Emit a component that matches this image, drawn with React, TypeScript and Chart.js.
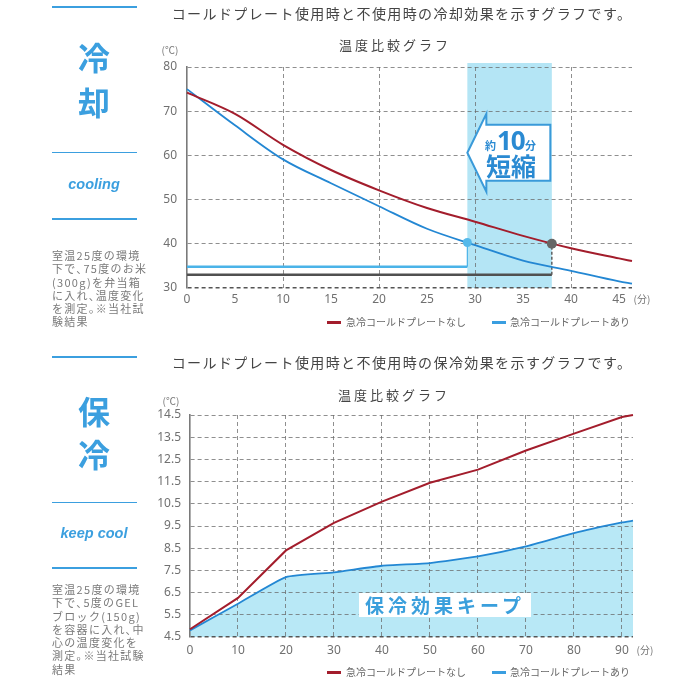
import React, { useEffect, useRef } from "react";
import { Chart, registerables } from "chart.js";
Chart.register(...registerables);

// ---------- data: cooling chart ----------
const coolMinutes = [0, 5, 10, 15, 20, 25, 30, 35, 40, 45, 46.35];
const coolWithout = [74.2, 69.4, 62.4, 56.7, 52.1, 48.1, 45.0, 41.8, 39.0, 36.7, 36.1];
const coolWith = [75.0, 66.8, 59.1, 53.7, 48.5, 43.4, 39.7, 36.2, 33.9, 31.5, 31.0];
const coolXTicks = [0, 5, 10, 15, 20, 25, 30, 35, 40, 45];
const coolYTicks = [30, 40, 50, 60, 70, 80];
const coolBand = [29.2, 38.0];
const coolMarkWith = { x: 29.2, y: 40.3 };
const coolMarkWithout = { x: 38.0, y: 40.0 };
const coolBaseWith = 34.8;
const coolBaseWithout = 33.0;

// ---------- data: keep-cool chart ----------
const keepMinutes = [0, 10, 20, 30, 40, 50, 60, 70, 80, 90, 92.3];
const keepWithout = [4.85, 6.26, 8.4, 9.64, 10.6, 11.45, 12.04, 12.9, 13.66, 14.41, 14.5];
const keepWith = [4.8, 6.0, 7.2, 7.41, 7.71, 7.83, 8.13, 8.58, 9.18, 9.66, 9.74];
const keepXTicks = [0, 10, 20, 30, 40, 50, 60, 70, 80, 90];
const keepYTicks = [4.5, 5.5, 6.5, 7.5, 8.5, 9.5, 10.5, 11.5, 12.5, 13.5, 14.5];

const seriesNames = ["急冷コールドプレートなし", "急冷コールドプレートあり"];

const JP = '"Noto Sans CJK JP", "Noto Sans", sans-serif';
const NUM = '"Noto Sans", "DejaVu Sans", sans-serif';
const RED = "#a31d2c";
const BLUE = "#2387d3";
const SKY = "#3b9fdf";
const GRID = "rgba(105,105,105,0.75)";

const fixedTicks = (values: number[]) => (scale: any) => {
  scale.ticks = values.map((v) => ({ value: v }));
};

const pts = (xs: number[], ys: number[]) => xs.map((x, i) => ({ x, y: ys[i] }));

function baseScales(opts: any) {
  const { xMin, xMax, xTicks, yMin, yMax, yTicks, yWidth, xHeight, xPad, yPad, yFmt } = opts;
  return {
    x: {
      type: "linear",
      min: xMin,
      max: xMax,
      afterBuildTicks: fixedTicks(xTicks),
      afterFit: (s: any) => {
        s.height = xHeight;
      },
      grid: {
        color: (c: any) =>
          c.tick && c.tick.value % 10 === 0 && c.tick.value !== 0 ? GRID : "rgba(0,0,0,0)",
        lineWidth: 1,
        drawTicks: false,
      },
      border: { display: false, dash: [4, 3] },
      ticks: {
        padding: xPad,
        color: "#707070",
        font: { family: NUM, size: 12 },
        maxRotation: 0,
        autoSkip: false,
      },
    },
    y: {
      type: "linear",
      min: yMin,
      max: yMax,
      afterBuildTicks: fixedTicks(yTicks),
      afterFit: (s: any) => {
        s.width = yWidth;
      },
      grid: {
        color: (c: any) => (c.tick && c.tick.value === yMin ? "#555" : GRID),
        lineWidth: (c: any) => (c.tick && c.tick.value === yMin ? 1.6 : 1),
        drawTicks: false,
      },
      border: { display: true, color: "#7a7a7a", width: 1.6, dash: [4, 3] },
      ticks: {
        padding: yPad,
        color: "#707070",
        font: { family: NUM, size: 12 },
        autoSkip: false,
        callback: yFmt,
      },
    },
  };
}

function CoolChart() {
  const ref = useRef<HTMLCanvasElement>(null);
  useEffect(() => {
    const bandPlugin = {
      id: "coolBand",
      beforeDraw(chart: any) {
        const { ctx, chartArea, scales } = chart;
        const x1 = scales.x.getPixelForValue(coolBand[0]);
        const x2 = scales.x.getPixelForValue(coolBand[1]);
        ctx.save();
        ctx.fillStyle = "#b4e5f5";
        ctx.fillRect(x1, chartArea.top - 4, x2 - x1, chartArea.bottom - chartArea.top + 4);
        ctx.restore();
      },
      afterDraw(chart: any) {
        const { ctx, scales } = chart;
        const x1 = scales.x.getPixelForValue(coolBand[0]);
        const x2 = scales.x.getPixelForValue(coolBand[1]);
        const yc = scales.y.getPixelForValue(60.6);
        const hb = x1 + 19;
        const right = x2 - 1.5;
        ctx.save();
        ctx.beginPath();
        ctx.moveTo(x1, yc);
        ctx.lineTo(hb, yc - 39);
        ctx.lineTo(hb, yc - 28);
        ctx.lineTo(right, yc - 28);
        ctx.lineTo(right, yc + 28);
        ctx.lineTo(hb, yc + 28);
        ctx.lineTo(hb, yc + 39);
        ctx.closePath();
        ctx.fillStyle = "#ffffff";
        ctx.fill();
        ctx.lineWidth = 2;
        ctx.strokeStyle = "#3a9ad9";
        ctx.stroke();
        ctx.restore();
      },
    };
    const chart = new Chart(ref.current!, {
      type: "line",
      data: {
        datasets: [
          {
            data: [coolMarkWith],
            showLine: false,
            pointRadius: 4.5,
            pointBackgroundColor: "#55b9ea",
            pointBorderWidth: 0,
            clip: 8,
          },
          {
            data: [coolMarkWithout],
            showLine: false,
            pointRadius: 5,
            pointBackgroundColor: "#666",
            pointBorderWidth: 0,
            clip: 8,
          },
          {
            label: seriesNames[0],
            data: pts(coolMinutes, coolWithout),
            borderColor: RED,
            borderWidth: 2,
            cubicInterpolationMode: "monotone",
            clip: 6,
          },
          {
            label: seriesNames[1],
            data: pts(coolMinutes, coolWith),
            borderColor: BLUE,
            borderWidth: 1.8,
            cubicInterpolationMode: "monotone",
            clip: 6,
          },
          {
            data: [
              { x: coolMarkWith.x, y: coolBaseWith },
              { x: coolMarkWith.x, y: coolMarkWith.y },
            ],
            borderColor: "#4ab3e8",
            borderWidth: 1.2,
            clip: 6,
          },
          {
            data: [
              { x: 0, y: coolBaseWith },
              { x: coolMarkWith.x, y: coolBaseWith },
            ],
            borderColor: "#4ab3e8",
            borderWidth: 2.4,
            clip: 6,
          },
          {
            data: [
              { x: coolMarkWithout.x, y: coolBaseWithout },
              { x: coolMarkWithout.x, y: coolMarkWithout.y },
            ],
            borderColor: "#555",
            borderWidth: 1.4,
            borderDash: [3, 2],
            clip: 6,
          },
          {
            data: [
              { x: 0, y: coolBaseWithout },
              { x: coolMarkWithout.x, y: coolBaseWithout },
            ],
            borderColor: "#505050",
            borderWidth: 2.6,
            clip: 6,
          },
        ],
      } as any,
      options: {
        animation: false,
        responsive: false,
        maintainAspectRatio: false,
        layout: { padding: { left: 0, right: 68, top: 67, bottom: 0 } },
        elements: { point: { radius: 0, hoverRadius: 0 }, line: { tension: 0 } },
        plugins: { legend: { display: false }, tooltip: { enabled: false } },
        scales: baseScales({
          xMin: 0,
          xMax: 46.35,
          xTicks: coolXTicks,
          yMin: 30,
          yMax: 80,
          yTicks: coolYTicks,
          yWidth: 187,
          xHeight: 52,
          xPad: 4,
          yPad: 10,
          yFmt: (v: any) => String(v),
        }),
      } as any,
      plugins: [bandPlugin],
    });
    return () => chart.destroy();
  }, []);
  return (
    <canvas
      ref={ref}
      width={700}
      height={340}
      style={{ position: "absolute", left: 0, top: 0, width: 700, height: 340 }}
    />
  );
}

function KeepChart() {
  const ref = useRef<HTMLCanvasElement>(null);
  useEffect(() => {
    const chart = new Chart(ref.current!, {
      type: "line",
      data: {
        datasets: [
          {
            label: seriesNames[0],
            data: pts(keepMinutes, keepWithout),
            borderColor: RED,
            borderWidth: 2,
            tension: 0,
            clip: 6,
          },
          {
            label: seriesNames[1],
            data: pts(keepMinutes, keepWith),
            borderColor: BLUE,
            borderWidth: 1.8,
            tension: 0.15,
            fill: "start",
            backgroundColor: "#b8e8f6",
            clip: 6,
          },
        ],
      } as any,
      options: {
        animation: false,
        responsive: false,
        maintainAspectRatio: false,
        layout: { padding: { left: 0, right: 67, top: 75, bottom: 0 } },
        elements: { point: { radius: 0, hoverRadius: 0 } },
        plugins: {
          legend: { display: false },
          tooltip: { enabled: false },
          filler: { drawTime: "beforeDraw" },
        },
        scales: baseScales({
          xMin: 0,
          xMax: 92.3,
          xTicks: keepXTicks,
          yMin: 4.5,
          yMax: 14.5,
          yTicks: keepYTicks,
          yWidth: 190,
          xHeight: 63,
          xPad: 6,
          yPad: 9,
          yFmt: (v: any) => Number(v).toFixed(1),
        }),
      } as any,
    });
    return () => chart.destroy();
  }, []);
  return (
    <canvas
      ref={ref}
      width={700}
      height={360}
      style={{ position: "absolute", left: 0, top: 340, width: 700, height: 360 }}
    />
  );
}

const abs = (x: number, y: number, extra: any = {}): any => ({
  position: "absolute",
  left: x,
  top: y,
  whiteSpace: "nowrap",
  ...extra,
});

function Centered({ cx, cy, style, children }: any) {
  return (
    <div style={abs(cx, cy, { transform: "translate(-50%,-50%)", lineHeight: 1, ...style })}>
      {children}
    </div>
  );
}

function HLine({ y, w }: any) {
  return <div style={abs(52, y, { width: 85, height: w, background: SKY })} />;
}

function SidePanel({ chars, en, lines, t }: any) {
  return (
    <>
      <HLine y={t[0]} w={2} />
      <Centered cx={94} cy={t[1]} style={{ fontFamily: JP, fontWeight: 700, fontSize: 32, color: SKY }}>
        {chars[0]}
      </Centered>
      <Centered cx={94} cy={t[2]} style={{ fontFamily: JP, fontWeight: 700, fontSize: 32, color: SKY }}>
        {chars[1]}
      </Centered>
      <HLine y={t[3]} w={1} />
      <Centered
        cx={94}
        cy={t[4]}
        style={{ fontFamily: '"Liberation Sans", Arial, sans-serif', fontStyle: "italic", fontWeight: 700, fontSize: 14.5, color: SKY }}
      >
        {en}
      </Centered>
      <HLine y={t[5]} w={2} />
      <div style={abs(52, t[6], { fontFamily: JP, fontSize: 11, color: "#7a7a7a", lineHeight: "13.3px", letterSpacing: 1.3 })}>
        {lines.map((l: string, i: number) => (
          <div key={i}>{l}</div>
        ))}
      </div>
    </>
  );
}

function Legend({ y }: any) {
  const txt = { fontFamily: JP, fontSize: 10, color: "#666", lineHeight: 1 };
  return (
    <>
      <div style={abs(327, y - 1, { width: 14, height: 2.5, background: RED })} />
      <div style={abs(346, y - 5, txt)}>{seriesNames[0]}</div>
      <div style={abs(492, y - 1, { width: 14, height: 2.5, background: "#3a9ee0" })} />
      <div style={abs(510, y - 5, txt)}>{seriesNames[1]}</div>
    </>
  );
}

export default function App() {
  const title = { fontFamily: JP, fontSize: 14, color: "#444", letterSpacing: 1.4 };
  const sub = { fontFamily: JP, fontSize: 13, color: "#444", letterSpacing: 3 };
  const unit = { fontFamily: JP, fontSize: 10, color: "#777" };
  const arrowTxt = { fontFamily: JP, fontWeight: 700, color: "#2a8ad2", lineHeight: 1 };
  return (
    <div
      style={{
        position: "fixed",
        left: 0,
        top: 0,
        width: 700,
        height: 700,
        background: "#ffffff",
        overflow: "hidden",
      }}
    >
      <CoolChart />
      <KeepChart />

      {/* cooling chart texts */}
      <Centered cx={402} cy={13} style={title}>
        コールドプレート使用時と不使用時の冷却効果を示すグラフです。
      </Centered>
      <Centered cx={395} cy={44} style={sub}>
        温度比較グラフ
      </Centered>
      <Centered cx={170} cy={50} style={unit}>
        (℃)
      </Centered>
      <Centered cx={642} cy={299} style={unit}>
        (分)
      </Centered>
      <div style={abs(485, 140, { ...arrowTxt, fontSize: 11 })}>約</div>
      <div style={abs(497, 127, { ...arrowTxt, fontFamily: NUM, fontSize: 26, letterSpacing: -1 })}>10</div>
      <div style={abs(525, 140, { ...arrowTxt, fontSize: 11 })}>分</div>
      <div style={abs(486, 153, { ...arrowTxt, fontSize: 25 })}>短縮</div>
      <Legend y={322} />

      {/* keep-cool chart texts */}
      <Centered cx={402} cy={362} style={title}>
        コールドプレート使用時と不使用時の保冷効果を示すグラフです。
      </Centered>
      <Centered cx={394} cy={394} style={sub}>
        温度比較グラフ
      </Centered>
      <Centered cx={171} cy={401} style={unit}>
        (℃)
      </Centered>
      <Centered cx={645} cy={650} style={unit}>
        (分)
      </Centered>
      <div
        style={abs(359, 593, {
          width: 172,
          height: 24,
          background: "#ffffff",
          textAlign: "center",
          lineHeight: "24px",
          fontFamily: JP,
          fontWeight: 700,
          fontSize: 19,
          letterSpacing: 4,
          color: "#3a9fdc",
        })}
      >
        保冷効果キープ
      </div>
      <Legend y={672} />

      {/* side panels */}
      <SidePanel
        chars={["冷", "却"]}
        en="cooling"
        t={[6, 56, 101, 152, 184, 218, 249]}
        lines={["室温25度の環境", "下で､75度のお米", "(300g)を弁当箱", "に入れ､温度変化", "を測定｡※当社試", "験結果"]}
      />
      <SidePanel
        chars={["保", "冷"]}
        en="keep cool"
        t={[356, 410, 453, 502, 533, 567, 583]}
        lines={["室温25度の環境", "下で､5度のGEL", "ブロック(150g)", "を容器に入れ､中", "心の温度変化を", "測定｡※当社試験", "結果"]}
      />
    </div>
  );
}
